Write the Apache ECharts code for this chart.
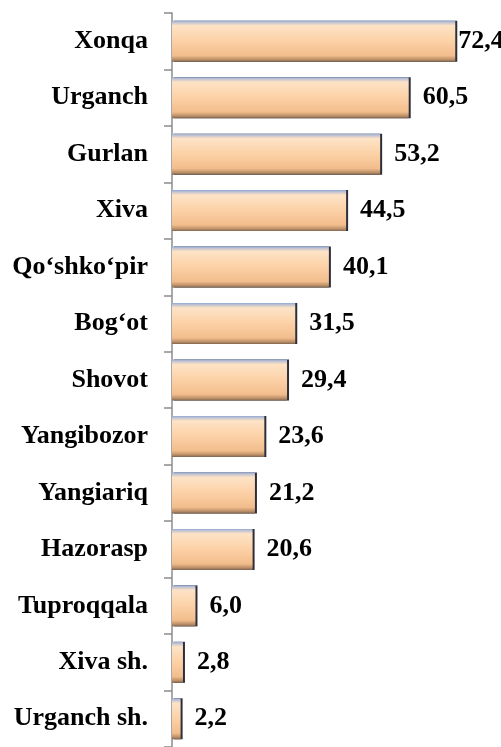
<!DOCTYPE html>
<html>
<head>
<meta charset="utf-8">
<script src="https://cdn.jsdelivr.net/npm/echarts@6/dist/echarts.min.js"></script>
<style>
  html, body { margin: 0; padding: 0; background: #fff; }
  #chart { width: 501px; height: 747px; }
</style>
</head>
<body>
<div id="chart"></div>
<script>
const districts = ['Xonqa', 'Urganch', 'Gurlan', 'Xiva', 'Qo‘shko‘pir', 'Bog‘ot', 'Shovot',
  'Yangibozor', 'Yangiariq', 'Hazorasp', 'Tuproqqala', 'Xiva sh.', 'Urganch sh.'];
const values = [72.4, 60.5, 53.2, 44.5, 40.1, 31.5, 29.4, 23.6, 21.2, 20.6, 6.0, 2.8, 2.2];

const chart = echarts.init(document.getElementById('chart'));

const barFill = new echarts.graphic.LinearGradient(0, 0, 0, 1, [
  { offset: 0, color: '#8fa9d6' },
  { offset: 0.05, color: '#c9c6cf' },
  { offset: 0.12, color: '#fde3c6' },
  { offset: 0.5, color: '#fcd1a6' },
  { offset: 0.85, color: '#f2bd8c' },
  { offset: 0.95, color: '#b98d66' },
  { offset: 1, color: '#7d6450' }
]);

// the longest bar's label sits close to the bar end (it runs off the edge)
const barData = values.map((v, i) => (i === 0 ? { value: v, label: { distance: 3 } } : v));

chart.setOption({
  animation: false,
  grid: { left: 172, top: 13, width: 313, height: 741 },
  xAxis: { type: 'value', min: 0, max: 80, show: false },
  yAxis: {
    type: 'category',
    data: districts,
    inverse: true,
    axisLine: { show: true, lineStyle: { color: '#8c8c8c', width: 1.5 } },
    axisTick: { show: true, length: 8, lineStyle: { color: '#8c8c8c', width: 1.5 } },
    axisLabel: {
      margin: 24,
      fontFamily: 'Liberation Serif',
      fontWeight: 'bold',
      fontSize: 26,
      color: '#000'
    }
  },
  series: [{
    type: 'bar',
    data: barData,
    barWidth: 41,
    itemStyle: {
      color: barFill,
      shadowColor: '#2e2e3a',
      shadowOffsetX: 2,
      shadowBlur: 0
    },
    label: {
      show: true,
      position: 'right',
      distance: 14,
      fontFamily: 'Liberation Serif',
      fontWeight: 'bold',
      fontSize: 26,
      color: '#000',
      formatter: (p) => p.value.toFixed(1).replace('.', ',')
    }
  }]
});
</script>
</body>
</html>
